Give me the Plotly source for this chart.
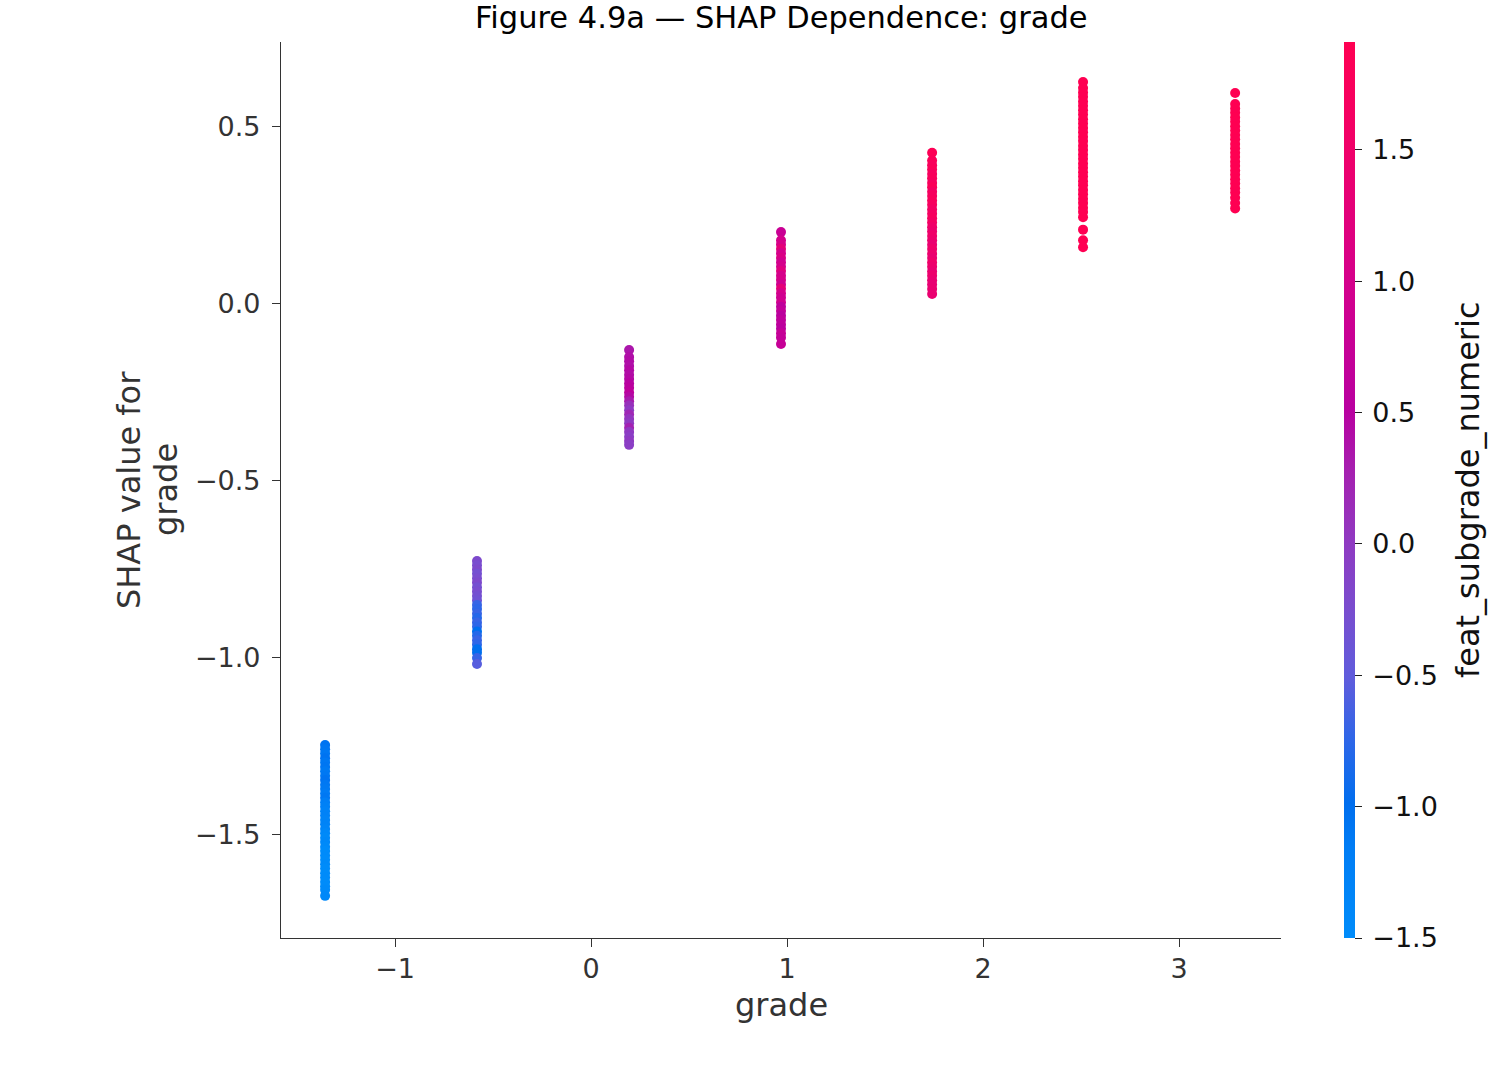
import plotly.graph_objects as go

# ---------------- data ----------------
grade_levels = [-1.357, -0.582, 0.194, 0.969, 1.74, 2.51, 3.286]

shap_col1 = [-1.246, -1.258, -1.270, -1.283, -1.295, -1.308, -1.320, -1.333, -1.345, -1.358,
             -1.370, -1.383, -1.395, -1.408, -1.420, -1.433, -1.445, -1.458, -1.470, -1.483,
             -1.495, -1.508, -1.520, -1.533, -1.545, -1.558, -1.570, -1.583, -1.595, -1.608,
             -1.620, -1.633, -1.645, -1.655, -1.672]
sub_col1 = [-1.05, -1.08, -1.10, -1.05, -1.10, -1.08, -1.12, -1.10, -1.05, -1.10,
            -1.12, -1.15, -1.10, -1.20, -1.25, -1.30, -1.28, -1.32, -1.30, -1.35,
            -1.40, -1.45, -1.42, -1.45, -1.50, -1.48, -1.50, -1.45, -1.50, -1.50,
            -1.48, -1.50, -1.50, -1.45, -1.42]

shap_col2 = [-0.726, -0.738, -0.750, -0.762, -0.775, -0.787, -0.800, -0.812, -0.825, -0.837,
             -0.850, -0.862, -0.875, -0.887, -0.900, -0.912, -0.925, -0.937, -0.950, -0.962,
             -0.975, -0.985, -1.000, -1.017]
sub_col2 = [-0.20, -0.25, -0.20, -0.30, -0.25, -0.20, -0.30, -0.25, -0.30, -0.35,
            -0.70, -0.75, -0.70, -0.80, -0.70, -0.75, -1.00, -0.80, -0.70, -0.75,
            -1.00, -1.00, -0.70, -0.55]

shap_col3 = [-0.130, -0.150, -0.162, -0.175, -0.187, -0.200, -0.212, -0.225, -0.237, -0.250,
             -0.262, -0.275, -0.287, -0.300, -0.312, -0.325, -0.337, -0.350, -0.362, -0.375,
             -0.387, -0.398]
sub_col3 = [0.35, 0.40, 0.42, 0.40, 0.45, 0.42, 0.45, 0.50, 0.55, 0.60,
            0.45, 0.30, 0.10, 0.00, 0.20, 0.05, 0.00, 0.25, 0.00, -0.05,
            0.00, -0.05]

shap_col4 = [0.203, 0.180, 0.168, 0.155, 0.143, 0.130, 0.118, 0.105, 0.093, 0.080,
             0.068, 0.055, 0.043, 0.030, 0.018, 0.005, -0.008, -0.020, -0.033, -0.045,
             -0.058, -0.070, -0.083, -0.095, -0.113]
sub_col4 = [0.80, 1.00, 1.05, 1.30, 1.00, 1.10, 0.95, 1.00, 1.20, 1.00,
            1.05, 0.90, 1.30, 1.00, 0.90, 0.95, 0.60, 0.70, 0.55, 0.65,
            0.60, 0.55, 0.75, 0.70, 0.75]

shap_col5 = [0.427, 0.405, 0.392, 0.380, 0.367, 0.355, 0.342, 0.330, 0.317, 0.305,
             0.292, 0.280, 0.267, 0.255, 0.242, 0.230, 0.217, 0.205, 0.192, 0.180,
             0.167, 0.155, 0.142, 0.130, 0.117, 0.105, 0.092, 0.080, 0.067, 0.055,
             0.042, 0.028]
sub_col5 = [1.85, 1.80, 1.75, 1.80, 1.70, 1.75, 1.70, 1.80, 1.65, 1.70,
            1.75, 1.70, 1.60, 1.65, 1.70, 1.60, 1.50, 1.45, 1.50, 1.45,
            1.40, 1.50, 1.45, 1.40, 1.50, 1.45, 1.40, 1.45, 1.40, 1.35,
            1.40, 1.40]

shap_col6 = [0.627, 0.610, 0.597, 0.585, 0.572, 0.560, 0.547, 0.535, 0.522, 0.510,
             0.497, 0.485, 0.472, 0.460, 0.447, 0.435, 0.422, 0.410, 0.397, 0.385,
             0.372, 0.360, 0.347, 0.335, 0.322, 0.310, 0.297, 0.285, 0.272, 0.260,
             0.245, 0.210, 0.180, 0.160]
sub_col6 = [1.91, 1.90, 1.91, 1.89, 1.91, 1.90, 1.91, 1.90, 1.91, 1.89,
            1.91, 1.90, 1.91, 1.90, 1.91, 1.89, 1.91, 1.90, 1.91, 1.90,
            1.91, 1.89, 1.91, 1.90, 1.91, 1.90, 1.91, 1.89, 1.91, 1.90,
            1.91, 1.90, 1.91, 1.90]

shap_col7 = [0.596, 0.565, 0.552, 0.540, 0.527, 0.515, 0.502, 0.490, 0.477, 0.465,
             0.452, 0.440, 0.427, 0.415, 0.402, 0.390, 0.377, 0.365, 0.352, 0.340,
             0.327, 0.315, 0.300, 0.285, 0.270]
sub_col7 = [1.91, 1.90, 1.91, 1.89, 1.91, 1.90, 1.91, 1.90, 1.91, 1.89,
            1.91, 1.90, 1.91, 1.90, 1.91, 1.89, 1.91, 1.90, 1.91, 1.90,
            1.91, 1.89, 1.91, 1.90, 1.91]

x_tickvals = [-1, 0, 1, 2, 3]
x_ticktext = ["\u22121", "0", "1", "2", "3"]
y_tickvals = [-1.5, -1.0, -0.5, 0.0, 0.5]
y_ticktext = ["\u22121.5", "\u22121.0", "\u22120.5", "0.0", "0.5"]
cb_tickvals = [-1.5, -1.0, -0.5, 0.0, 0.5, 1.0, 1.5]
cb_ticktext = ["\u22121.5", "\u22121.0", "\u22120.5", "0.0", "0.5", "1.0", "1.5"]

title_text = "Figure 4.9a \u2014 SHAP Dependence: grade"
x_label = "grade"
y_label_lines = ["SHAP value for", "grade"]
cb_label = "feat_subgrade_numeric"

# ---------------- build ----------------
shap_cols = [shap_col1, shap_col2, shap_col3, shap_col4, shap_col5, shap_col6, shap_col7]
sub_cols = [sub_col1, sub_col2, sub_col3, sub_col4, sub_col5, sub_col6, sub_col7]
xs, ys, cs = [], [], []
for lvl, sy, sc in zip(grade_levels, shap_cols, sub_cols):
    xs += [lvl] * len(sy)
    ys += sy
    cs += sc

colorscale = [
    [0.00, "rgb(0,140,250)"],
    [0.10, "rgb(0,125,245)"],
    [0.15, "rgb(0,110,238)"],
    [0.22, "rgb(45,102,232)"],
    [0.29, "rgb(95,92,220)"],
    [0.37, "rgb(122,76,206)"],
    [0.44, "rgb(143,58,194)"],
    [0.52, "rgb(165,32,176)"],
    [0.59, "rgb(185,0,160)"],
    [0.73, "rgb(212,0,140)"],
    [0.88, "rgb(240,0,105)"],
    [1.00, "rgb(255,0,82)"],
]

FONT = "DejaVu Sans"
AX = "#333333"
PAD = "\u2009"  # thin space: nudges colorbar labels away from the bar

fig = go.Figure()
fig.add_trace(go.Scatter(
    x=xs, y=ys, mode="markers",
    marker=dict(
        size=10, color=cs, colorscale=colorscale, cmin=-1.5, cmax=1.91,
        line=dict(width=0),
        showscale=True,
        colorbar=dict(
            x=1.063, xanchor="left", y=0.5, yanchor="middle",
            len=1.0, lenmode="fraction", thickness=11, thicknessmode="pixels",
            xpad=0, ypad=0, outlinewidth=0,
            tickvals=cb_tickvals, ticktext=[PAD + t for t in cb_ticktext],
            ticks="outside", ticklen=7, tickwidth=1.3, tickcolor="#222222",
            tickfont=dict(family=FONT, size=27, color="#111111"),
        ),
    ),
    hoverinfo="skip", showlegend=False,
))

fig.update_layout(
    width=1500, height=1080,
    margin=dict(l=281, r=219, t=42, b=142),
    paper_bgcolor="white", plot_bgcolor="white",
    font=dict(family=FONT, color=AX),
    showlegend=False,
)
fig.update_xaxes(
    range=[-1.582, 3.52], showgrid=False, zeroline=False,
    showline=True, linecolor=AX, linewidth=1.3, mirror=False,
    tickvals=x_tickvals, ticktext=x_ticktext,
    ticks="outside", ticklen=8, tickwidth=1.3, tickcolor=AX,
    tickfont=dict(family=FONT, size=27, color=AX),
    ticklabelstandoff=-2,
)
fig.update_yaxes(
    range=[-1.791, 0.74], showgrid=False, zeroline=False,
    showline=True, linecolor=AX, linewidth=1.3, mirror=False,
    tickvals=y_tickvals, ticktext=y_ticktext,
    ticks="outside", ticklen=8, tickwidth=1.3, tickcolor=AX,
    tickfont=dict(family=FONT, size=27, color=AX),
    ticklabelstandoff=6,
)

annotations = [
    dict(text=title_text, xref="paper", yref="paper", x=0.5, y=1, yshift=42 - 17,
         xanchor="center", yanchor="middle", showarrow=False,
         font=dict(family=FONT, size=30.5, color="#000000")),
    dict(text=x_label, xref="paper", yref="paper", x=0.5, y=0, yshift=-(1005 - 938),
         xanchor="center", yanchor="middle", showarrow=False,
         font=dict(family=FONT, size=32, color=AX)),
    dict(text=y_label_lines[0], xref="paper", yref="paper", x=0, y=0.5, xshift=129 - 281,
         xanchor="center", yanchor="middle", textangle=-90, showarrow=False,
         font=dict(family=FONT, size=32, color=AX)),
    dict(text=y_label_lines[1], xref="paper", yref="paper", x=0, y=0.5, xshift=166 - 281,
         xanchor="center", yanchor="middle", textangle=-90, showarrow=False,
         font=dict(family=FONT, size=32, color=AX)),
    dict(text=cb_label, xref="paper", yref="paper", x=1, y=0.5, xshift=1468 - 1281,
         xanchor="center", yanchor="middle", textangle=-90, showarrow=False,
         font=dict(family=FONT, size=32, color="#111111")),
]
fig.update_layout(annotations=annotations)

fig.write_html("out.html")
